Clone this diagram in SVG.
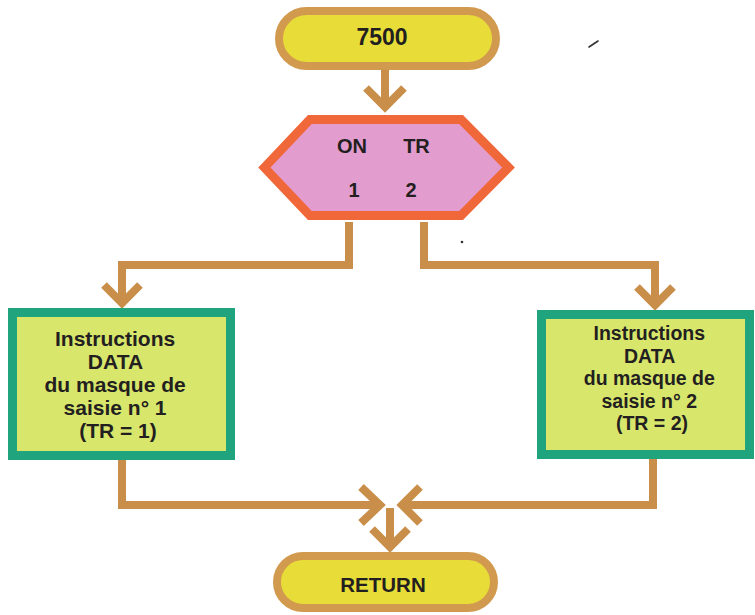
<svg xmlns="http://www.w3.org/2000/svg" width="755" height="615" viewBox="0 0 755 615">
  <style>
    .label { font-family: "Liberation Sans", Arial, Helvetica, sans-serif; font-weight: bold; fill: #231f20; text-anchor: middle; }
    .pill { fill: #e8dc38; stroke: #d29a4e; stroke-width: 8; }
    .hex { fill: #e29ccd; stroke: #f0683a; stroke-width: 9; stroke-linejoin: miter; }
    .box { fill: #d8e66c; stroke: #1fa47e; stroke-width: 9; }
    .flow { fill: none; stroke: #c98f4a; stroke-width: 8; stroke-linejoin: miter; stroke-linecap: butt; }
    .speck { fill: none; stroke: #333; stroke-width: 1.6; stroke-linecap: round; }
  </style>

  <rect width="755" height="615" fill="#ffffff"/>

  <!-- connectors -->
  <g id="connectors">
    <!-- start to selector -->
    <path class="flow" d="M385,70 V106"/>
    <path class="flow" d="M366,88 L385,107 L404,88"/>
    <!-- selector branch 1 -->
    <path class="flow" d="M349,222 V265 H122 V302"/>
    <path class="flow" d="M104,285 L122,303 L140,285"/>
    <!-- selector branch 2 -->
    <path class="flow" d="M424,222 V265 H655 V304"/>
    <path class="flow" d="M637,287 L655,305 L673,287"/>
    <!-- block 1 to merge -->
    <path class="flow" d="M122,460 V505 H379"/>
    <path class="flow" d="M361,487 L380,505 L361,523"/>
    <!-- block 2 to merge -->
    <path class="flow" d="M653,459 V505 H403"/>
    <path class="flow" d="M420,487 L402,505 L420,523"/>
    <!-- merge to return -->
    <path class="flow" d="M390,508 V546"/>
    <path class="flow" d="M372,529 L390,547 L408,529"/>
  </g>

  <!-- start terminal -->
  <g id="start">
    <rect class="pill" x="279" y="11" width="217" height="55" rx="27.5"/>
    <text class="label" x="382" y="45" font-size="23">7500</text>
  </g>

  <!-- ON ... selector -->
  <g id="selector">
    <polygon class="hex" points="264.4,167.5 309.9,119.5 461.1,119.5 508.6,167.5 461.1,215.5 309.9,215.5"/>
    <text class="label" x="352" y="153" font-size="20">ON</text>
    <text class="label" x="416.5" y="153" font-size="20">TR</text>
    <text class="label" x="354" y="197" font-size="20">1</text>
    <text class="label" x="411" y="197" font-size="20">2</text>
  </g>

  <!-- input mask 1 data -->
  <g id="mask1">
    <rect class="box" x="12.5" y="312.5" width="218" height="143"/>
    <text class="label" font-size="21">
      <tspan x="118" y="346">Instructions</tspan>
      <tspan x="118" y="369">DATA</tspan>
      <tspan x="118" y="392">du masque de</tspan>
      <tspan x="118" y="415">saisie n° 1</tspan>
      <tspan x="118" y="438">(TR = 1)</tspan>
    </text>
  </g>

  <!-- input mask 2 data -->
  <g id="mask2">
    <rect class="box" x="541.5" y="314.5" width="208" height="140"/>
    <text class="label" font-size="19.5">
      <tspan x="652" y="340">Instructions</tspan>
      <tspan x="652" y="363">DATA</tspan>
      <tspan x="652" y="385">du masque de</tspan>
      <tspan x="652" y="408">saisie n° 2</tspan>
      <tspan x="652" y="430">(TR = 2)</tspan>
    </text>
  </g>

  <!-- return terminal -->
  <g id="return">
    <rect class="pill" x="277" y="556" width="217" height="52" rx="26"/>
    <text class="label" x="383" y="592" font-size="20.5">RETURN</text>
  </g>

  <!-- small marks on the page -->
  <path class="speck" d="M589,47 L598,41"/>
  <circle cx="462" cy="242" r="1.3" fill="#333"/>
</svg>
